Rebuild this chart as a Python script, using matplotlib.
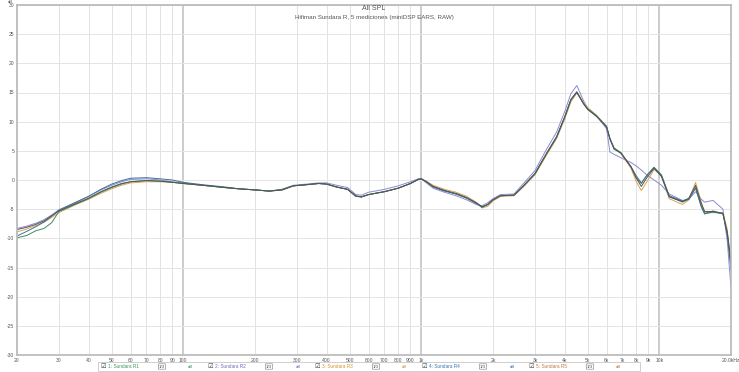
import matplotlib
matplotlib.use("Agg")
import matplotlib.pyplot as plt

plt.rcParams['font.family'] = ['Liberation Sans', 'DejaVu Sans']

# frequencies (Hz) shared by all five measurements
freq = [20, 22, 24, 26, 28, 30, 35, 40, 45, 50, 55, 60, 70, 80, 90, 100,
        120, 150, 170, 200, 230, 260, 290, 330, 370, 400, 440, 490, 530, 560,
        600, 700, 800, 900, 970, 1000, 1050, 1120, 1250, 1400, 1550, 1700,
        1800, 1900, 2000, 2150, 2450, 2700, 3000, 3350, 3700, 4000, 4250,
        4500, 4800, 5000, 5450, 6000, 6200, 6450, 6900, 7600, 8000, 8400,
        8900, 9500, 10200, 11000, 12500, 13300, 14200, 15000, 15500, 16800,
        18500, 19300, 20000]

r1 = [-9.9, -9.5, -8.7, -8.3, -7.3, -5.4, -4.2, -3.2, -2.1, -1.3, -0.7, -0.3,
      -0.1, -0.2, -0.4, -0.6, -0.9, -1.3, -1.5, -1.7, -1.9, -1.6, -1.0, -0.8,
      -0.6, -0.7, -1.2, -1.6, -2.8, -2.9, -2.5, -2.0, -1.4, -0.6, 0.1, 0.2,
      -0.3, -1.1, -1.8, -2.4, -3.1, -4.0, -4.7, -4.2, -3.4, -2.7, -2.6, -0.9,
      1.0, 4.4, 7.3, 10.7, 13.7, 15.0, 13.1, 12.2, 11.0, 9.2, 7.1, 5.5,
      4.7, 2.2, 0.4, -0.6, 0.9, 2.2, 0.8, -2.8, -3.8, -3.3, -1.3, -4.5,
      -5.8, -5.3, -5.8, -9.2, -14.5]
r2 = [-8.3, -7.9, -7.4, -6.8, -6.0, -5.1, -3.9, -2.8, -1.7, -0.9, -0.3, 0.1,
      0.2, 0.0, -0.3, -0.5, -0.9, -1.3, -1.5, -1.7, -1.9, -1.6, -0.9, -0.7,
      -0.5, -0.5, -0.9, -1.3, -2.5, -2.6, -2.1, -1.6, -1.0, -0.3, 0.2, 0.2,
      -0.5, -1.4, -2.1, -2.7, -3.4, -4.2, -4.4, -3.9, -3.2, -2.5, -2.4, -0.5,
      1.6, 5.2, 8.2, 11.7, 14.8, 16.2, 13.6, 12.3, 11.0, 8.8, 4.8, 4.4,
      3.8, 3.0, 2.4, 1.7, 0.8, 0.0, -0.9, -2.4, -3.5, -3.3, -2.0, -3.3,
      -3.8, -3.5, -5.0, -10.5, -18.5]
r3 = [-8.9, -8.4, -7.8, -7.2, -6.4, -5.6, -4.3, -3.3, -2.3, -1.5, -0.9, -0.5,
      -0.3, -0.3, -0.4, -0.6, -0.9, -1.3, -1.5, -1.7, -1.9, -1.7, -1.0, -0.8,
      -0.6, -0.7, -1.2, -1.6, -2.7, -2.9, -2.5, -2.0, -1.4, -0.6, 0.1, 0.2,
      -0.2, -0.9, -1.6, -2.1, -2.8, -3.8, -4.8, -4.5, -3.6, -2.8, -2.7, -1.1,
      0.9, 4.2, 7.1, 10.4, 13.4, 14.9, 13.3, 12.4, 11.1, 9.2, 7.2, 5.5,
      4.5, 2.0, -0.3, -1.8, -0.2, 1.8, 0.8, -3.2, -4.2, -3.4, -0.4, -3.8,
      -5.6, -5.6, -5.6, -8.5, -15.0]
r4 = [-9.6, -8.8, -8.0, -7.2, -6.2, -5.2, -3.9, -2.8, -1.6, -0.7, -0.1, 0.3,
      0.4, 0.2, 0.0, -0.4, -0.8, -1.2, -1.5, -1.7, -1.9, -1.7, -1.0, -0.8,
      -0.6, -0.7, -1.2, -1.6, -2.8, -2.9, -2.5, -2.0, -1.4, -0.6, 0.1, 0.2,
      -0.3, -1.2, -1.9, -2.4, -3.1, -4.0, -4.6, -4.2, -3.4, -2.7, -2.6, -0.9,
      1.1, 4.5, 7.4, 10.8, 13.8, 15.1, 13.1, 12.1, 10.9, 9.1, 7.0, 5.4,
      4.6, 2.3, 0.7, -0.5, 0.9, 2.1, 0.9, -2.7, -3.6, -3.3, -1.4, -4.6,
      -5.8, -5.5, -5.8, -9.5, -15.5]
r5 = [-8.5, -8.1, -7.6, -7.0, -6.1, -5.3, -4.1, -3.1, -2.0, -1.2, -0.6, -0.3,
      -0.1, -0.2, -0.4, -0.6, -0.9, -1.3, -1.5, -1.7, -1.9, -1.7, -1.0, -0.8,
      -0.6, -0.7, -1.2, -1.6, -2.7, -2.9, -2.5, -2.0, -1.4, -0.6, 0.1, 0.2,
      -0.3, -1.1, -1.8, -2.3, -3.0, -3.9, -4.6, -4.2, -3.4, -2.7, -2.6, -0.9,
      1.1, 4.5, 7.4, 10.8, 13.8, 15.1, 13.1, 12.1, 10.9, 9.1, 7.0, 5.3,
      4.6, 2.3, 0.3, -1.1, 0.5, 2.0, 0.6, -2.9, -3.7, -3.1, -0.9, -4.0,
      -5.4, -5.4, -5.7, -9.0, -14.0]

names = ["1: Sundara R1", "2: Sundara R2", "3: Sundara R3", "4: Sundara R4", "5: Sundara R5"]
series = [r1, r2, r3, r4, r5]
line_colors = ["#3f8a62", "#8a8ad6", "#dca45a", "#3f719a", "#55554a"]
text_colors = ["#3c9a5a", "#6f6fc0", "#d8952f", "#3a78b0", "#c07a40"]

xticks = [20, 30, 40, 50, 60, 70, 80, 90, 100, 200, 300, 400, 500, 600, 700,
          800, 900, 1000, 2000, 3000, 4000, 5000, 6000, 7000, 8000, 9000,
          10000, 20000]
xlabels = ["20", "30", "40", "50", "60", "70", "80", "90", "100", "200", "300",
           "400", "500", "600", "700", "800", "900", "1k", "2k", "3k", "4k",
           "5k", "6k", "7k", "8k", "9k", "10k", "20.0kHz"]
yticks = list(range(-30, 31, 5))

fig = plt.figure(figsize=(7.39, 3.72), dpi=100)
ax = fig.add_axes([17/739, 17/372, 714/739, 350/372])
ax.set_xscale("log")
ax.set_xlim(20, 20000)
ax.set_ylim(-30, 30)

# grid like REW: decades darker
for f in xticks:
    if f in (100, 1000, 10000):
        ax.axvline(f, color="#c4c4c4", lw=1.2, zorder=0)
    else:
        ax.axvline(f, color="#e2e2e2", lw=0.7, zorder=0)
for y in yticks:
    ax.axhline(y, color="#e4e4e4", lw=0.7, zorder=0)

order = [1, 2, 0, 3, 4]
for i in order:
    ax.plot(freq, series[i], color=line_colors[i], lw=0.7, zorder=2)

ax.set_xticks(xticks)
ax.set_xticklabels(xlabels)
ax.minorticks_off()
ax.set_yticks(yticks)
ax.set_yticklabels([str(v) for v in yticks])
ax.tick_params(length=0, labelsize=3.6, labelcolor="#555555", pad=2)
for s in ax.spines.values():
    s.set_color("#b8b8b8")
    s.set_linewidth(1.2)

fig.text(10/739, 1 - 0.3/372, "dB", fontsize=3.0, color="#555555", ha="center", va="top")
fig.text(374/739, 1 - 8/372, "All SPL", fontsize=5.0, color="#555555", ha="center", va="center")
fig.text(374/739, 1 - 18/372, "Hifiman Sundara R, 5 mediciones (miniDSP EARS, RAW)",
         fontsize=4.5, color="#555555", ha="center", va="center")

# legend strip at the bottom
fig.patches.append(plt.Rectangle((98/739, 1 - 371/372), 542/739, 9/372,
                                 transform=fig.transFigure, facecolor="white",
                                 edgecolor="#c8c8c8", lw=0.6))
ly = 1 - 366.5/372
for i in range(5):
    x0 = 103 + 107 * i
    fig.text(x0/739, ly, "\u2611", fontsize=4.5, color="#444444", ha="center", va="center",
             family="DejaVu Sans")
    fig.text((x0 + 5)/739, ly, names[i], fontsize=3.4, color=text_colors[i], ha="left", va="center")
    fig.text((x0 + 59)/739, ly, "1/3", fontsize=3.2, color="#555555", ha="center", va="center",
             bbox=dict(boxstyle="round,pad=0.15", fc="white", ec="#777777", lw=0.4))
    fig.text((x0 + 88)/739, ly, "dB", fontsize=3.2, color=text_colors[i], ha="center", va="center")

fig.savefig("out.png", dpi=100)
